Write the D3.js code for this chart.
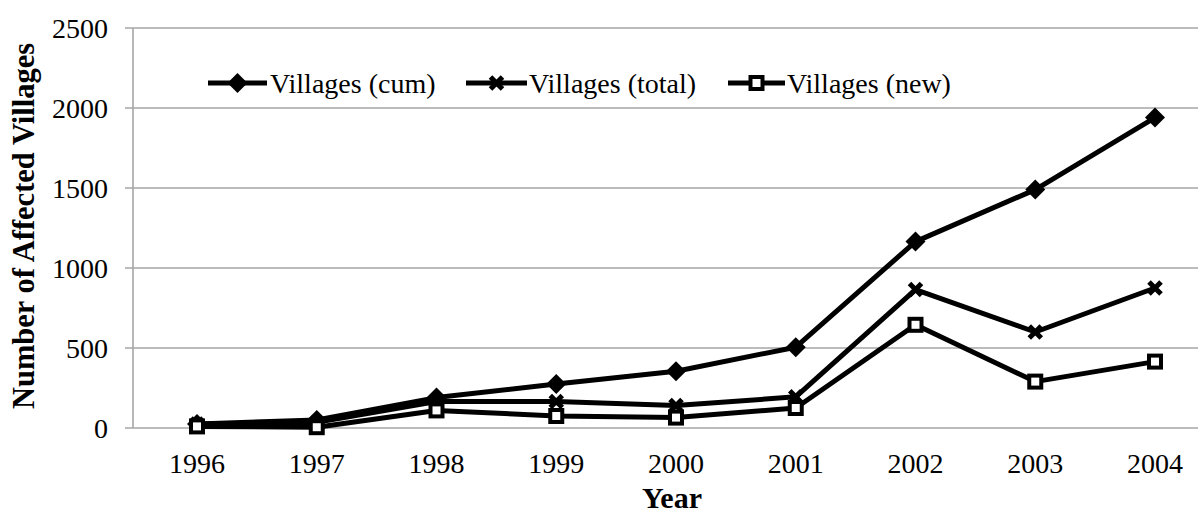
<!DOCTYPE html>
<html>
<head>
<meta charset="utf-8">
<script src="https://cdn.jsdelivr.net/npm/d3@7"></script>
<style>
  body { margin: 0; background: #fff; }
  svg text { font-family: "Liberation Serif", "Times New Roman", serif; fill: #000; }
</style>
</head>
<body>
<div id="chart"></div>
<script>
// data
var years = ["1996", "1997", "1998", "1999", "2000", "2001", "2002", "2003", "2004"];
var cumValues = [25, 50, 190, 275, 355, 505, 1165, 1490, 1940];
var totalValues = [25, 35, 165, 165, 140, 195, 865, 600, 875];
var newValues = [10, 5, 110, 75, 65, 125, 645, 290, 415];
var seriesNames = ["Villages (cum)", "Villages (total)", "Villages (new)"];
var yTicks = [0, 500, 1000, 1500, 2000, 2500];

var width = 1198, height = 516;
var plotLeft = 133, plotRight = 1198, plotTop = 28, plotBottom = 428;

var svg = d3.select("#chart").append("svg")
    .attr("width", width)
    .attr("height", height);

var x = d3.scalePoint()
    .domain(years)
    .range([197, 1155]);

var y = d3.scaleLinear()
    .domain([0, 2500])
    .range([plotBottom, plotTop]);

// gridlines + left ticks
svg.append("g").selectAll("line")
    .data(yTicks)
    .enter().append("line")
        .attr("x1", plotLeft - 8)
        .attr("x2", plotRight)
        .attr("y1", function(d) { return y(d); })
        .attr("y2", function(d) { return y(d); })
        .attr("stroke", "#a6a6a6")
        .attr("stroke-width", 1.6);

svg.append("line")
    .attr("x1", plotLeft).attr("x2", plotLeft)
    .attr("y1", plotTop).attr("y2", plotBottom)
    .attr("stroke", "#a6a6a6")
    .attr("stroke-width", 1.6);

// y tick labels
svg.append("g").selectAll("text")
    .data(yTicks)
    .enter().append("text")
        .attr("x", 108)
        .attr("y", function(d) { return y(d); })
        .attr("dy", "0.35em")
        .attr("text-anchor", "end")
        .style("font-size", "28px")
        .text(function(d) { return d; });

// x tick labels
svg.append("g").selectAll("text")
    .data(years)
    .enter().append("text")
        .attr("x", function(d) { return x(d); })
        .attr("y", 473)
        .attr("text-anchor", "middle")
        .style("font-size", "28px")
        .text(function(d) { return d; });

// axis titles
svg.append("text")
    .attr("transform", "translate(34,226) rotate(-90)")
    .attr("text-anchor", "middle")
    .style("font-size", "30.5px")
    .style("font-weight", "bold")
    .text("Number of Affected Villages");

svg.append("text")
    .attr("x", 672)
    .attr("y", 508)
    .attr("text-anchor", "middle")
    .style("font-size", "30px")
    .style("font-weight", "bold")
    .text("Year");

var line = d3.line()
    .x(function(d) { return x(d.year); })
    .y(function(d) { return y(d.value); })
    .curve(d3.curveLinear);

function toPoints(values) {
    return values.map(function(v, i) { return {year: years[i], value: v}; });
}

var series = [
    {name: seriesNames[0], marker: "diamond", points: toPoints(cumValues)},
    {name: seriesNames[1], marker: "x", points: toPoints(totalValues)},
    {name: seriesNames[2], marker: "square", points: toPoints(newValues)}
];

// draws one marker centred at (cx, cy)
function drawMarker(g, type, cx, cy) {
    if (type == "diamond") {
        g.append("path")
            .attr("d", "M0,-10L10,0L0,10L-10,0Z")
            .attr("transform", "translate(" + cx + "," + cy + ")")
            .attr("fill", "#000");
    } else if (type == "x") {
        g.append("path")
            .attr("d", "M-6,-6L6,6M6,-6L-6,6")
            .attr("transform", "translate(" + cx + "," + cy + ")")
            .attr("stroke", "#000")
            .attr("stroke-width", 5)
            .attr("fill", "none");
    } else {
        g.append("rect")
            .attr("x", cx - 6).attr("y", cy - 6)
            .attr("width", 12).attr("height", 12)
            .attr("fill", "#fff")
            .attr("stroke", "#000")
            .attr("stroke-width", 4);
    }
}

var chartGroup = svg.append("g").attr("class", "series");

series.forEach(function(s) {
    var g = chartGroup.append("g");
    g.append("path")
        .attr("d", line(s.points))
        .attr("fill", "none")
        .attr("stroke", "#000")
        .attr("stroke-width", 5)
        .attr("stroke-linejoin", "round");
    s.points.forEach(function(p) {
        drawMarker(g, s.marker, x(p.year), y(p.value));
    });
});

// legend
var legendY = 83;
var legendItems = [
    {x1: 208, x2: 267, tx: 270},
    {x1: 466, x2: 527, tx: 529},
    {x1: 728, x2: 785, tx: 787}
];
var legend = svg.append("g").attr("class", "legend");
legendItems.forEach(function(it, i) {
    var g = legend.append("g");
    g.append("line")
        .attr("x1", it.x1).attr("x2", it.x2)
        .attr("y1", legendY).attr("y2", legendY)
        .attr("stroke", "#000")
        .attr("stroke-width", 5);
    drawMarker(g, series[i].marker, (it.x1 + it.x2) / 2, legendY);
    g.append("text")
        .attr("x", it.tx)
        .attr("y", legendY)
        .attr("dy", "0.35em")
        .style("font-size", "28px")
        .text(series[i].name);
});
</script>
</body>
</html>
